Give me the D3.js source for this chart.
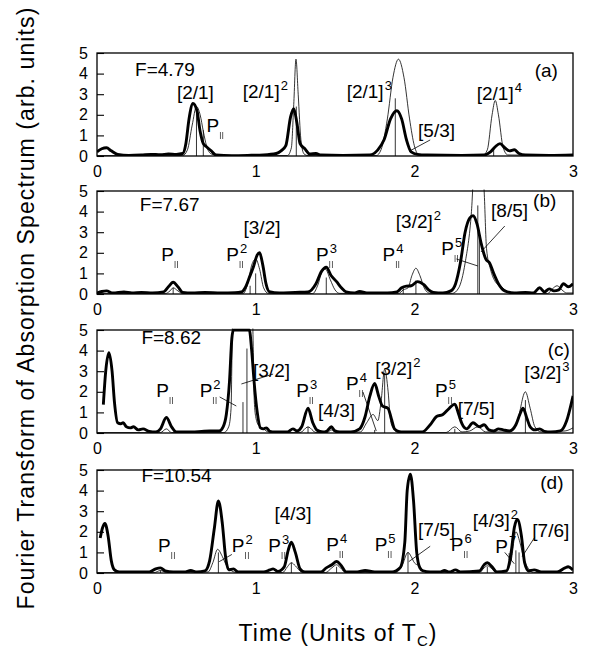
<!DOCTYPE html>
<html>
<head>
<meta charset="utf-8">
<script src="https://cdn.jsdelivr.net/npm/d3@7"></script>
<style>
body { margin: 0; background: #fff; }
svg { font-family: "Liberation Sans", Arial, sans-serif; background: #fff; }
.thick { fill: none; stroke: #000; stroke-width: 2.9; stroke-linejoin: round; }
.thin { fill: none; stroke: #000; stroke-width: 0.8; }
.stick, .leader { stroke: #000; stroke-width: 0.8; }
.frame { fill: none; stroke: #000; stroke-width: 1.3; }
</style>
</head>
<body>
<svg width="600" height="653"></svg>
<script>
// values: [time (T_C), amplitude]

var thickA = [[0,0.2],[0.03,0.35],[0.06,0.4],[0.09,0.25],[0.13,0.08],[0.2,0.03],[0.28,0.05],[0.34,0.08],[0.4,0.06],[0.45,0.1],[0.5,0.08],[0.54,0.12],[0.56,0.6],[0.58,1.8],[0.605,2.55],[0.63,2.2],[0.65,1.2],[0.67,0.6],[0.69,0.45],[0.72,0.25],[0.75,0.05],[0.85,0.02],[0.95,0.03],[1.05,0.05],[1.13,0.12],[1.16,0.25],[1.19,0.5],[1.22,1.9],[1.24,2.3],[1.26,1.6],[1.28,0.6],[1.31,0.35],[1.34,0.1],[1.38,0.12],[1.41,0.05],[1.55,0.03],[1.72,0.05],[1.77,0.3],[1.81,0.8],[1.85,1.8],[1.89,2.2],[1.92,1.8],[1.95,0.8],[1.98,0.2],[2.02,0.08],[2.08,0.05],[2.3,0.03],[2.44,0.05],[2.48,0.2],[2.51,0.45],[2.54,0.6],[2.57,0.4],[2.6,0.25],[2.63,0.3],[2.66,0.12],[2.7,0.05],[2.85,0.03],[3,0.05]];
var thinA = [[0,0.02],[0.54,0.02],[0.57,0.3],[0.6,1.5],[0.627,2.4],[0.65,2.0],[0.67,1.2],[0.69,0.5],[0.72,0.1],[0.77,0.02],[1.2,0.02],[1.225,0.4],[1.24,2.5],[1.254,4.7],[1.268,3.0],[1.285,0.8],[1.305,0.1],[1.33,0.02],[1.76,0.02],[1.79,0.3],[1.83,1.8],[1.865,3.8],[1.9,4.7],[1.935,3.8],[1.97,1.8],[2.0,0.5],[2.03,0.05],[2.43,0.02],[2.46,0.3],[2.49,2.0],[2.51,2.7],[2.53,2.0],[2.56,0.4],[2.59,0.05],[3,0.02]];
var sticksA = [[0.627,2.2],[0.67,1.25],[1.256,2.4],[1.88,2.8],[2.5,0.4]];

var thickB = [[0,0.05],[0.03,0.12],[0.06,0.15],[0.1,0.05],[0.17,0.1],[0.22,0.05],[0.28,0.08],[0.35,0.05],[0.42,0.1],[0.45,0.35],[0.48,0.57],[0.51,0.35],[0.54,0.08],[0.6,0.05],[0.68,0.08],[0.78,0.05],[0.87,0.06],[0.91,0.1],[0.94,0.4],[0.96,0.8],[0.985,1.3],[1.01,1.9],[1.025,2.0],[1.045,1.4],[1.065,0.5],[1.085,0.12],[1.15,0.05],[1.25,0.08],[1.33,0.1],[1.38,0.5],[1.415,1.1],[1.445,1.3],[1.475,0.9],[1.51,0.6],[1.54,0.3],[1.57,0.1],[1.62,0.05],[1.655,0.12],[1.7,0.05],[1.83,0.05],[1.89,0.1],[1.92,0.3],[1.95,0.38],[1.98,0.4],[2.02,0.6],[2.06,0.45],[2.09,0.2],[2.12,0.08],[2.18,0.05],[2.23,0.15],[2.26,0.5],[2.29,1.5],[2.32,3.0],[2.35,3.7],[2.37,3.8],[2.395,3.4],[2.42,2.5],[2.45,1.7],[2.475,1.5],[2.5,1.0],[2.53,0.5],[2.57,0.15],[2.63,0.05],[2.7,0.08],[2.75,0.05],[2.79,0.3],[2.82,0.1],[2.85,0.25],[2.88,0.15],[2.91,0.2],[2.94,0.5],[2.97,0.35],[3,0.5]];
var thinB = [[0,0.02],[0.43,0.02],[0.46,0.15],[0.48,0.3],[0.51,0.15],[0.54,0.02],[0.92,0.02],[0.95,0.5],[0.975,1.4],[1.0,1.7],[1.025,1.2],[1.05,0.3],[1.08,0.03],[1.36,0.02],[1.39,0.4],[1.42,1.1],[1.44,1.2],[1.47,0.7],[1.5,0.2],[1.53,0.03],[1.9,0.02],[1.93,0.2],[1.96,0.3],[1.985,0.9],[2.01,1.25],[2.035,0.9],[2.065,0.25],[2.1,0.03],[2.24,0.03],[2.28,0.3],[2.32,1.5],[2.36,4.0],[2.38,6.5],[2.42,7],[2.44,5],[2.455,2.2],[2.48,1.2],[2.51,0.6],[2.55,0.35],[2.59,0.1],[2.64,0.02],[2.84,0.02],[2.87,0.25],[2.9,0.4],[2.93,0.2],[2.96,0.05],[3,0.05]];
var sticksB = [[0.48,0.3],[0.965,0.4],[1.0,1.0],[1.445,0.8],[1.93,0.3],[2.01,0.65],[2.4,4.3],[2.41,2.9]];

var thickC = [[0.04,1.38],[0.055,3.0],[0.075,3.9],[0.095,3.0],[0.11,1.5],[0.13,0.5],[0.15,0.45],[0.165,0.5],[0.185,0.3],[0.21,0.25],[0.23,0.3],[0.26,0.15],[0.29,0.2],[0.33,0.08],[0.37,0.05],[0.4,0.2],[0.437,0.75],[0.47,0.3],[0.5,0.05],[0.6,0.05],[0.66,0.08],[0.71,0.1],[0.77,0.1],[0.795,0.3],[0.815,0.9],[0.835,2.5],[0.85,4.6],[0.86,5],[0.96,5],[0.975,4.0],[0.99,2.5],[1.01,1.0],[1.03,0.25],[1.05,0.2],[1.067,0.25],[1.09,0.08],[1.12,0.05],[1.2,0.05],[1.235,0.2],[1.26,0.1],[1.29,0.3],[1.33,1.2],[1.36,0.5],[1.385,0.15],[1.425,0.05],[1.45,0.1],[1.477,0.3],[1.5,0.1],[1.53,0.05],[1.6,0.05],[1.655,0.2],[1.69,0.8],[1.72,1.8],[1.75,2.4],[1.775,1.8],[1.8,1.3],[1.834,1.2],[1.855,0.7],[1.875,0.2],[1.9,0.08],[1.93,0.05],[2.05,0.05],[2.1,0.4],[2.14,0.8],[2.18,0.9],[2.22,1.2],[2.255,1.4],[2.28,0.9],[2.3,0.45],[2.33,0.2],[2.37,0.5],[2.41,0.3],[2.44,0.4],[2.47,0.15],[2.5,0.1],[2.53,0.2],[2.56,0.15],[2.6,0.1],[2.64,0.4],[2.665,0.9],[2.685,1.2],[2.71,0.7],[2.73,0.3],[2.76,0.15],[2.79,0.2],[2.82,0.08],[2.86,0.05],[2.92,0.1],[2.96,0.6],[3,1.8]];
var thinC = [[0,0.02],[0.4,0.02],[0.437,0.2],[0.47,0.02],[0.8,0.02],[0.83,0.3],[0.845,1.2],[0.855,5.5],[0.98,5.5],[0.99,1.8],[1.0,0.8],[1.02,0.35],[1.05,0.2],[1.08,0.05],[1.28,0.02],[1.33,0.3],[1.38,0.02],[1.45,0.02],[1.477,0.15],[1.51,0.02],[1.66,0.05],[1.7,0.5],[1.74,0.9],[1.77,0.6],[1.79,1.5],[1.813,3.1],[1.835,2.0],[1.85,0.6],[1.87,0.2],[1.9,0.02],[2.2,0.02],[2.255,0.3],[2.3,0.05],[2.35,0.1],[2.4,0.3],[2.45,0.05],[2.6,0.05],[2.65,0.6],[2.7,2.0],[2.73,1.2],[2.76,0.3],[2.8,0.05],[2.95,0.1],[3,0.25]];
var sticksC = [[0.92,1.5],[0.945,4.1],[1.33,0.3],[1.75,0.15],[1.813,2.9],[2.255,0.2],[2.7,1.6]];

var thickD = [[0.02,1.7],[0.035,2.2],[0.05,2.4],[0.07,1.8],[0.09,0.6],[0.11,0.15],[0.14,0.05],[0.25,0.05],[0.33,0.05],[0.37,0.2],[0.4,0.25],[0.43,0.1],[0.48,0.05],[0.55,0.05],[0.59,0.12],[0.63,0.05],[0.68,0.1],[0.71,0.6],[0.74,2.2],[0.765,3.5],[0.79,2.4],[0.81,0.8],[0.83,0.15],[0.86,0.2],[0.89,0.05],[1.05,0.05],[1.09,0.15],[1.11,0.2],[1.14,0.08],[1.18,0.3],[1.205,1.1],[1.225,1.5],[1.25,1.0],[1.28,0.2],[1.31,0.05],[1.41,0.05],[1.445,0.25],[1.48,0.4],[1.51,0.56],[1.54,0.35],[1.57,0.05],[1.64,0.05],[1.69,0.12],[1.75,0.05],[1.86,0.05],[1.91,0.25],[1.94,1.5],[1.955,4.0],[1.975,4.8],[1.995,3.5],[2.015,1.0],[2.035,0.25],[2.055,0.1],[2.1,0.05],[2.16,0.05],[2.19,0.12],[2.22,0.05],[2.26,0.15],[2.29,0.05],[2.41,0.1],[2.44,0.4],[2.46,0.5],[2.49,0.3],[2.52,0.05],[2.58,0.1],[2.61,1.0],[2.63,2.2],[2.65,2.6],[2.675,1.8],[2.695,0.5],[2.72,0.1],[2.755,0.15],[2.8,0.05],[2.9,0.05],[2.95,0.25],[2.97,0.3],[3,0.15]];
var thinD = [[0,0.02],[0.36,0.02],[0.4,0.12],[0.44,0.02],[0.7,0.05],[0.73,0.5],[0.76,1.15],[0.79,0.8],[0.82,0.3],[0.85,0.1],[0.88,0.02],[1.17,0.02],[1.2,0.3],[1.225,0.5],[1.25,0.35],[1.29,0.05],[1.44,0.02],[1.48,0.25],[1.51,0.4],[1.54,0.2],[1.57,0.02],[1.88,0.02],[1.92,0.3],[1.96,1.0],[1.98,0.8],[2.0,0.5],[2.03,0.35],[2.06,0.1],[2.09,0.02],[2.41,0.02],[2.44,0.25],[2.46,0.35],[2.49,0.2],[2.52,0.02],[2.58,0.05],[2.61,0.6],[2.64,2.0],[2.665,1.5],[2.69,0.7],[2.72,0.2],[2.75,0.02],[3,0.02]];
var sticksD = [[0.4,0.12],[0.765,1.0],[1.225,0.5],[1.51,0.3],[1.96,1.0],[2.46,0.3],[2.64,1.1],[2.66,1.0]];

// annotations: [time, amplitude, text, superscript]
var fieldLabels = [[0.24,3.9,"F=4.79"],[0.27,4.03,"F=7.67"],[0.28,4.32,"F=8.62"],[0.28,4.4,"F=10.54"]];
var panelTags = [[2.905,3.83,"(a)"],[2.895,4.2,"(b)"],[2.98,3.75,"(c)"],[2.94,4.08,"(d)"]];

var bracketsA = [[0.62,2.78,"[2/1]",""],[1.035,2.8,"[2/1]","2"],[1.69,2.8,"[2/1]","3"],[2.14,0.92,"[5/3]",""],[2.51,2.72,"[2/1]","4"]];
var bracketsB = [[1.04,2.9,"[3/2]",""],[2.0,3.2,"[3/2]","2"],[2.6,3.73,"[8/5]",""]];
var bracketsC = [[1.1,2.72,"[3/2]",""],[1.51,0.78,"[4/3]",""],[1.87,2.82,"[3/2]","2"],[2.39,0.87,"[7/5]",""],[2.81,2.62,"[3/2]","3"]];
var bracketsD = [[1.235,2.57,"[4/3]",""],[2.14,1.8,"[7/5]",""],[2.485,2.23,"[4/3]","2"],[2.86,1.75,"[7/6]",""]];

// P_parallel labels: [left time, amplitude, superscript]
var orbitsA = [[0.69,1.17,""]];
var orbitsB = [[0.405,1.6,""],[0.815,1.6,"2"],[1.38,1.62,"3"],[1.8,1.62,"4"],[2.17,1.9,"5"]];
var orbitsC = [[0.374,1.75,""],[0.647,1.75,"2"],[1.256,1.75,"3"],[1.57,2.09,"4"],[2.13,1.75,"5"]];
var orbitsD = [[0.385,1.0,""],[0.85,1.0,"2"],[1.08,1.0,"3"],[1.445,1.05,"4"],[1.75,1.05,"5"],[2.23,1.05,"6"],[2.51,0.95,"7"]];

// leader lines: [t1, v1, t2, v2]
var leadersA = [[2.1,0.78,1.97,0.24]];
var leadersB = [[2.265,1.7,2.4,1.36],[2.57,3.3,2.42,2.04]];
var leadersC = [[0.773,1.75,0.878,1.31],[1.11,2.86,0.91,2.38],[1.676,1.99,1.76,0.1]];
var leadersD = [[0.85,0.9,0.77,0.55],[2.1,1.3,1.965,0.55],[2.57,1.0,2.63,0.45],[2.76,1.75,2.68,0.8]];

var xTicks = [0, 1, 2, 3];
var yTicks = [0, 1, 2, 3, 4, 5];

var panels = [
    {thick: thickA, thin: thinA, sticks: sticksA, brackets: bracketsA, orbits: orbitsA, leaders: leadersA},
    {thick: thickB, thin: thinB, sticks: sticksB, brackets: bracketsB, orbits: orbitsB, leaders: leadersB},
    {thick: thickC, thin: thinC, sticks: sticksC, brackets: bracketsC, orbits: orbitsC, leaders: leadersC},
    {thick: thickD, thin: thinD, sticks: sticksD, brackets: bracketsD, orbits: orbitsD, leaders: leadersD}
];

var svg = d3.select("svg");
MARGIN = {left: 97};
WIDTH = 476;
HEIGHT = 103;
var panelTops = [53, 191, 330, 470];

var x = d3.scaleLinear().domain([0, 3]).range([0, WIDTH]);
var y = d3.scaleLinear().domain([0, 5]).range([HEIGHT, 0]);

var line = d3.line()
    .curve(d3.curveMonotoneX)
    .x(function(d) { return x(d[0]); })
    .y(function(d) { return y(d[1]); });

var defs = svg.append("defs");
defs.append("clipPath")
    .attr("id", "plot")
  .append("rect")
    .attr("x", 0).attr("y", -1.5)
    .attr("width", WIDTH).attr("height", HEIGHT + 1.5);
// identity filter: renders the tiny bars offscreen so they stay plain grey
defs.append("filter").attr("id", "flat")
  .append("feColorMatrix").attr("type", "identity");

function drawBracket(g, d) {
    var t = g.append("text")
        .attr("x", x(d[0])).attr("y", y(d[1]))
        .attr("text-anchor", "middle")
        .attr("font-size", 19)
        .text(d[2]);
    if (d[3]) {
        var w = t.node().getComputedTextLength();
        g.append("text")
            .attr("x", x(d[0]) + w / 2 + 1).attr("y", y(d[1]) - 8)
            .attr("font-size", 13)
            .text(d[3]);
    }
}

// "P" with the small parallel-bar subscript and an optional power
function drawOrbit(g, d) {
    var px = x(d[0]), py = y(d[1]);
    var t = g.append("text").attr("x", px).attr("y", py).attr("font-size", 19).text("P");
    var w = t.node().getComputedTextLength();
    g.append("text")
        .attr("x", px + w).attr("y", py + 5)
        .attr("filter", "url(#flat)")
        .attr("font-size", 8)
        .attr("letter-spacing", 0.5)
        .text("||");
    if (d[2]) {
        g.append("text")
            .attr("x", px + w + 1).attr("y", py - 8)
            .attr("font-size", 13)
            .text(d[2]);
    }
}

panels.forEach(function(p, i) {
    var g = svg.append("g")
        .attr("transform", "translate(" + MARGIN.left + "," + panelTops[i] + ")");

    var plot = g.append("g").attr("clip-path", "url(#plot)");

    plot.append("path").datum(p.thin).attr("class", "thin").attr("d", line);

    plot.selectAll(".stick").data(p.sticks).enter().append("line")
        .attr("class", "stick")
        .attr("x1", d => x(d[0])).attr("x2", d => x(d[0]))
        .attr("y1", y(0)).attr("y2", d => y(d[1]));

    plot.append("path").datum(p.thick).attr("class", "thick").attr("d", line);

    g.append("rect")
        .attr("class", "frame")
        .attr("width", WIDTH).attr("height", HEIGHT);

    var ya = g.append("g")
        .call(d3.axisLeft(y).tickValues(yTicks).tickSizeInner(-7).tickSizeOuter(0).tickPadding(9).tickFormat(d3.format("d")))
        .attr("font-size", 16)
        .attr("font-family", "Liberation Sans, Arial, sans-serif");
    ya.select(".domain").remove();
    ya.selectAll("line").attr("stroke-width", 1.1);

    var xa = g.append("g")
        .attr("transform", "translate(0," + HEIGHT + ")")
        .call(d3.axisBottom(x).tickValues(xTicks).tickSize(0).tickPadding(9.5).tickFormat(d3.format("d")))
        .attr("font-size", 16)
        .attr("font-family", "Liberation Sans, Arial, sans-serif");
    xa.select(".domain").remove();

    g.selectAll(".leader").data(p.leaders).enter().append("line")
        .attr("class", "leader")
        .attr("x1", d => x(d[0])).attr("y1", d => y(d[1]))
        .attr("x2", d => x(d[2])).attr("y2", d => y(d[3]));

    var f = fieldLabels[i];
    g.append("text").attr("x", x(f[0])).attr("y", y(f[1])).attr("font-size", 19).text(f[2]);
    var tag = panelTags[i];
    g.append("text").attr("x", x(tag[0])).attr("y", y(tag[1]))
        .attr("text-anchor", "end").attr("font-size", 19).text(tag[2]);

    p.brackets.forEach(function(d) { drawBracket(g, d); });
    p.orbits.forEach(function(d) { drawOrbit(g, d); });
});

svg.append("text")
    .attr("transform", "translate(34,308) rotate(-90)")
    .attr("text-anchor", "middle")
    .attr("font-size", 23)
    .attr("letter-spacing", 1.1)
    .text("Fourier Transform of Absorption Spectrum (arb. units)");

var title = svg.append("text")
    .attr("x", 338).attr("y", 641)
    .attr("text-anchor", "middle")
    .attr("font-size", 23)
    .attr("letter-spacing", 1);
title.append("tspan").text("Time (Units of T");
title.append("tspan").attr("font-size", 15).attr("dy", 5).text("C");
title.append("tspan").attr("dy", -5).text(")");
</script>
</body>
</html>
